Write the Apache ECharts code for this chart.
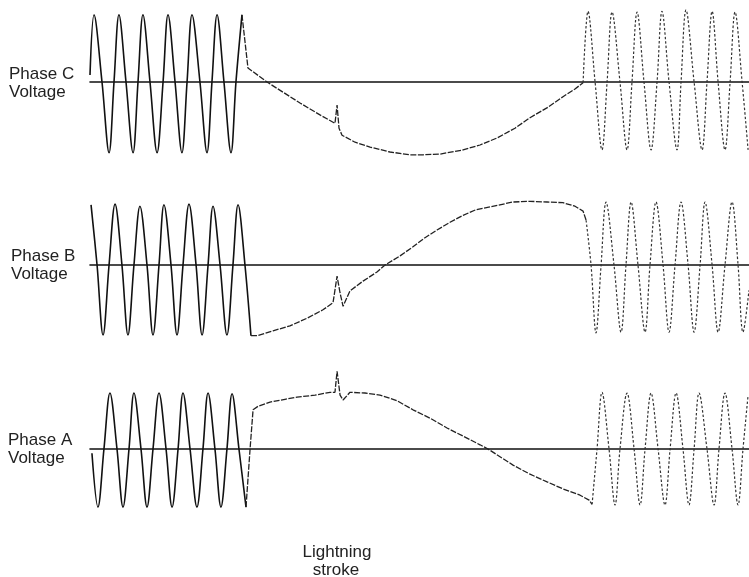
<!DOCTYPE html>
<html>
<head>
<meta charset="utf-8">
<script src="https://cdn.jsdelivr.net/npm/echarts@6/dist/echarts.min.js"></script>
<style>
html,body{margin:0;padding:0;background:#fff;}
#chart{width:749px;height:577px;}
</style>
</head>
<body>
<div id="chart"></div>
<script>
// time in ms, voltage in per unit
const phaseNames = ['Phase C', 'Phase B', 'Phase A'];
const yLabel = 'Voltage';
const strokeLabel = ['Lightning', 'stroke'];

const phaseC_pre = [[0,0.1],[2.7,0.96],[8.0,0],[12.7,-1.01],[16.0,0],[19.3,0.96],[24.0,0],[28.7,-1.01],[32.0,0],[35.3,0.96],[40.0,0],[44.7,-1.01],[48.7,0],[52.0,0.96],[56.7,0],[61.3,-1.01],[64.7,0],[68.0,0.96],[73.3,0],[78.0,-1.01],[81.3,0],[84.7,0.96],[89.3,0],[94.0,-1.01],[97.3,0],[101.3,0.96]];
const phaseC_fault = [[101.3,0.96],[105.3,0.2],[118.0,0],[140.0,-0.3],[153.3,-0.47],[163.3,-0.59],[164.7,-0.33],[166.0,-0.66],[168.0,-0.76],[176.7,-0.86],[186.7,-0.93],[200.0,-1.0],[213.3,-1.04],[222.0,-1.04],[233.3,-1.03],[248.7,-0.97],[260.0,-0.9],[271.3,-0.8],[283.3,-0.66],[293.3,-0.51],[305.3,-0.36],[315.3,-0.21],[323.3,-0.1],[328.7,-0.01]];
const phaseC_post = [[328.7,-0.01],[332.0,1.01],[336.7,0],[341.3,-0.97],[344.7,0],[348.0,1.0],[353.3,0],[358.0,-0.97],[361.3,0],[364.7,1.0],[369.3,0],[374.0,-0.97],[378.0,0],[381.3,1.01],[386.0,0],[391.3,-0.97],[394.0,0],[397.3,1.03],[402.7,0],[408.0,-0.97],[411.3,0],[414.7,1.01],[418.7,0],[423.3,-0.97],[426.7,0],[430.0,1.0],[434.7,0],[438.7,-0.97]];

const phaseB_pre = [[0.7,0.86],[4.7,0],[8.7,-1.0],[12.7,0],[16.7,0.87],[21.3,0],[25.3,-1.0],[29.3,0],[33.3,0.84],[38.0,0],[42.0,-1.0],[46.0,0],[49.3,0.86],[54.0,0],[58.0,-1.0],[62.0,0],[66.0,0.87],[70.7,0],[74.7,-1.0],[78.7,0],[82.0,0.84],[86.7,0],[91.3,-1.0],[95.3,0],[98.7,0.86],[103.3,0],[107.3,-1.01]];
const phaseB_fault = [[107.3,-1.01],[111.3,-1.01],[122.0,-0.94],[133.3,-0.87],[144.7,-0.76],[155.3,-0.64],[162.0,-0.54],[164.7,-0.16],[166.7,-0.4],[168.7,-0.59],[173.3,-0.37],[182.0,-0.23],[191.3,-0.1],[196.7,0],[206.7,0.13],[215.3,0.26],[223.3,0.39],[231.3,0.5],[240.0,0.61],[248.7,0.71],[257.3,0.79],[266.7,0.83],[282.0,0.9],[293.3,0.91],[304.7,0.9],[315.3,0.89],[323.3,0.84],[328.7,0.77],[330.7,0.64]];
const phaseB_post = [[330.7,0.64],[334.0,0],[337.3,-0.97],[340.7,0],[344.0,0.9],[349.3,0],[354.0,-0.96],[357.3,0],[360.7,0.9],[365.3,0],[370.0,-0.96],[373.3,0],[377.3,0.9],[382.0,0],[386.0,-0.96],[390.0,0],[394.0,0.9],[398.7,0],[402.7,-0.96],[406.7,0],[410.0,0.9],[414.7,0],[418.7,-0.96],[423.3,0],[428.0,0.9],[432.0,0],[435.3,-0.96],[439.3,-0.36]];

const phaseA_pre = [[1.3,-0.06],[5.3,-0.83],[9.3,0],[13.3,0.8],[18.0,0],[22.0,-0.83],[26.0,0],[29.3,0.8],[34.0,0],[38.0,-0.83],[42.0,0],[46.0,0.8],[50.7,0],[54.7,-0.83],[58.7,0],[62.0,0.8],[66.7,0],[71.3,-0.83],[75.3,0],[78.7,0.8],[83.3,0],[87.3,-0.83],[91.3,0],[94.7,0.79],[99.3,0],[104.0,-0.83]];
const phaseA_fault = [[104.0,-0.83],[106.7,0],[108.7,0.56],[112.0,0.61],[120.0,0.67],[130.0,0.71],[138.0,0.74],[150.0,0.77],[160.0,0.81],[163.3,0.81],[164.7,1.11],[166.7,0.77],[168.7,0.7],[173.3,0.81],[183.3,0.8],[193.3,0.77],[204.7,0.69],[215.3,0.56],[226.7,0.44],[238.0,0.3],[250.0,0.17],[260.0,0.06],[265.3,0],[273.3,-0.11],[282.0,-0.23],[293.3,-0.36],[304.7,-0.47],[315.3,-0.57],[326.7,-0.66],[332.7,-0.73],[334.7,-0.79]];
const phaseA_post = [[334.7,-0.79],[338.0,0],[341.3,0.81],[346.0,0],[350.0,-0.8],[353.3,0],[358.0,0.8],[362.7,0],[366.7,-0.8],[370.0,0],[374.0,0.8],[378.7,0],[383.3,-0.8],[386.7,0],[390.7,0.8],[395.3,0],[399.3,-0.8],[402.7,0],[406.0,0.8],[411.3,0],[416.0,-0.8],[419.3,0],[423.3,0.8],[428.0,0],[432.0,-0.8],[435.3,0],[438.7,0.77]];

const T_MAX = 439.3;
const V_RANGE = 1.1;

const chart = echarts.init(document.getElementById('chart'), null, {renderer: 'canvas'});

const gridTops = [5, 188, 372];
const grids = gridTops.map(t => ({left: 90, right: 0, top: t, height: 154}));
const xAxes = gridTops.map((t, i) => ({
  type: 'value', gridIndex: i, min: 0, max: T_MAX,
  axisLine: {show: true, onZero: true, lineStyle: {color: '#111', width: 1.6}},
  axisTick: {show: false}, axisLabel: {show: false}, splitLine: {show: false}
}));
const yAxes = gridTops.map((t, i) => ({
  type: 'value', gridIndex: i, min: -V_RANGE, max: V_RANGE, show: false,
  splitLine: {show: false}
}));

function seg(data, idx, kind) {
  const styles = {
    pre: {color: '#111', width: 1.6, type: 'solid'},
    fault: {color: '#222', width: 1.3, type: [6, 1.5]},
    post: {color: '#333', width: 1.2, type: [2.5, 2]}
  };
  return {
    type: 'line', xAxisIndex: idx, yAxisIndex: idx, data: data,
    symbol: 'none', smooth: kind === 'fault' ? false : 0.35,
    clip: false, silent: true,
    lineStyle: styles[kind]
  };
}

const series = [
  seg(phaseC_pre, 0, 'pre'), seg(phaseC_fault, 0, 'fault'), seg(phaseC_post, 0, 'post'),
  seg(phaseB_pre, 1, 'pre'), seg(phaseB_fault, 1, 'fault'), seg(phaseB_post, 1, 'post'),
  seg(phaseA_pre, 2, 'pre'), seg(phaseA_fault, 2, 'fault'), seg(phaseA_post, 2, 'post')
];

const labelTops = [{x: 9, y: 66}, {x: 11, y: 248}, {x: 8, y: 432}];
const textStyle = {fill: '#222', font: '17px "Liberation Sans", Arial, sans-serif'};
const graphics = [];
phaseNames.forEach((n, i) => {
  graphics.push({type: 'text', left: labelTops[i].x, top: labelTops[i].y, style: Object.assign({text: n}, textStyle)});
  graphics.push({type: 'text', left: labelTops[i].x, top: labelTops[i].y + 18, style: Object.assign({text: yLabel}, textStyle)});
});
graphics.push({type: 'text', x: 337, y: 552, style: Object.assign({text: strokeLabel[0], align: 'center', verticalAlign: 'middle'}, textStyle)});
graphics.push({type: 'text', x: 336, y: 570, style: Object.assign({text: strokeLabel[1], align: 'center', verticalAlign: 'middle'}, textStyle)});

chart.setOption({
  animation: false,
  backgroundColor: '#fff',
  grid: grids, xAxis: xAxes, yAxis: yAxes,
  series: series,
  graphic: graphics
});
</script>
</body>
</html>
